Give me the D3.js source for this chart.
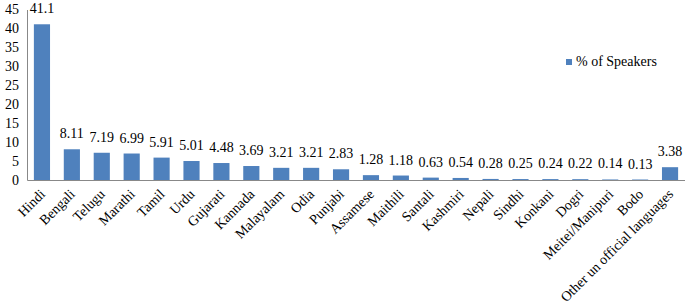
<!DOCTYPE html>
<html>
<head>
<meta charset="utf-8">
<script src="https://cdn.jsdelivr.net/npm/d3@7"></script>
<style>
  body { margin: 0; background: #fff; }
</style>
</head>
<body>
<div id="chart"></div>
<script>
const languages = ["Hindi", "Bengali", "Telugu", "Marathi", "Tamil", "Urdu", "Gujarati",
    "Kannada", "Malayalam", "Odia", "Punjabi", "Assamese", "Maithili", "Santali",
    "Kashmiri", "Nepali", "Sindhi", "Konkani", "Dogri", "Meitei/Manipuri", "Bodo",
    "Other un official languages"];
const speakers = [41.1, 8.11, 7.19, 6.99, 5.91, 5.01, 4.48, 3.69, 3.21, 3.21, 2.83,
    1.28, 1.18, 0.63, 0.54, 0.28, 0.25, 0.24, 0.22, 0.14, 0.13, 3.38];
const yTicks = [0, 5, 10, 15, 20, 25, 30, 35, 40, 45];
const seriesName = "% of Speakers";

const W = 685, H = 306;
const margin = { left: 27, right: 685, top: 9.5, bottom: 180 };
const FONT = "'Liberation Serif', 'Times New Roman', serif";

const svg = d3.select("#chart").append("svg")
    .attr("width", W)
    .attr("height", H)
    .style("font-family", FONT);

const x = d3.scaleBand().domain(languages).range([margin.left, margin.right]).paddingInner(0.46).paddingOuter(0.23);
const y = d3.scaleLinear().domain([0, 45]).range([margin.bottom, margin.top]);

// y axis
const yAxis = svg.append("g")
    .attr("transform", `translate(${margin.left},0)`)
    .call(d3.axisLeft(y).tickValues(yTicks).tickSize(0).tickPadding(8));
yAxis.attr("font-family", null).attr("font-size", null);
yAxis.select(".domain").attr("stroke", "#888");
yAxis.selectAll("text")
    .style("font-family", FONT)
    .style("font-size", "14px")
    .attr("fill", "#000");

// bars
svg.selectAll(".bar")
    .data(languages)
    .enter().append("rect")
    .attr("class", "bar")
    .attr("x", d => x(d))
    .attr("width", x.bandwidth())
    .attr("y", (d, i) => y(speakers[i]))
    .attr("height", (d, i) => y(0) - y(speakers[i]))
    .attr("fill", "#4F81BD");

// x axis
const xAxis = svg.append("g")
    .attr("transform", `translate(0,${margin.bottom})`)
    .call(d3.axisBottom(x).tickSize(0).tickSizeOuter(0).tickPadding(0));
xAxis.attr("font-family", null).attr("font-size", null);
xAxis.select(".domain").attr("stroke", "#888");
xAxis.selectAll("text")
    .style("font-family", FONT)
    .style("font-size", "14px")
    .attr("fill", "#000")
    .style("text-anchor", "end")
    .attr("dy", null)
    .attr("y", 0)
    .attr("transform", "translate(4,15) rotate(-45)");

// value labels
svg.selectAll(".val")
    .data(languages)
    .enter().append("text")
    .attr("class", "val")
    .attr("x", d => x(d) + x.bandwidth() / 2)
    .attr("y", (d, i) => y(speakers[i]) - 11)
    .attr("text-anchor", "middle")
    .style("font-family", FONT)
    .style("font-size", "14px")
    .text((d, i) => speakers[i]);

// legend
const legend = svg.append("g").attr("transform", "translate(566,59)");
legend.append("rect")
    .attr("width", 6)
    .attr("height", 6)
    .attr("fill", "#4F81BD");
legend.append("text")
    .attr("x", 10)
    .attr("y", 7)
    .style("font-family", FONT)
    .style("font-size", "14px")
    .text(seriesName);
</script>
</body>
</html>
